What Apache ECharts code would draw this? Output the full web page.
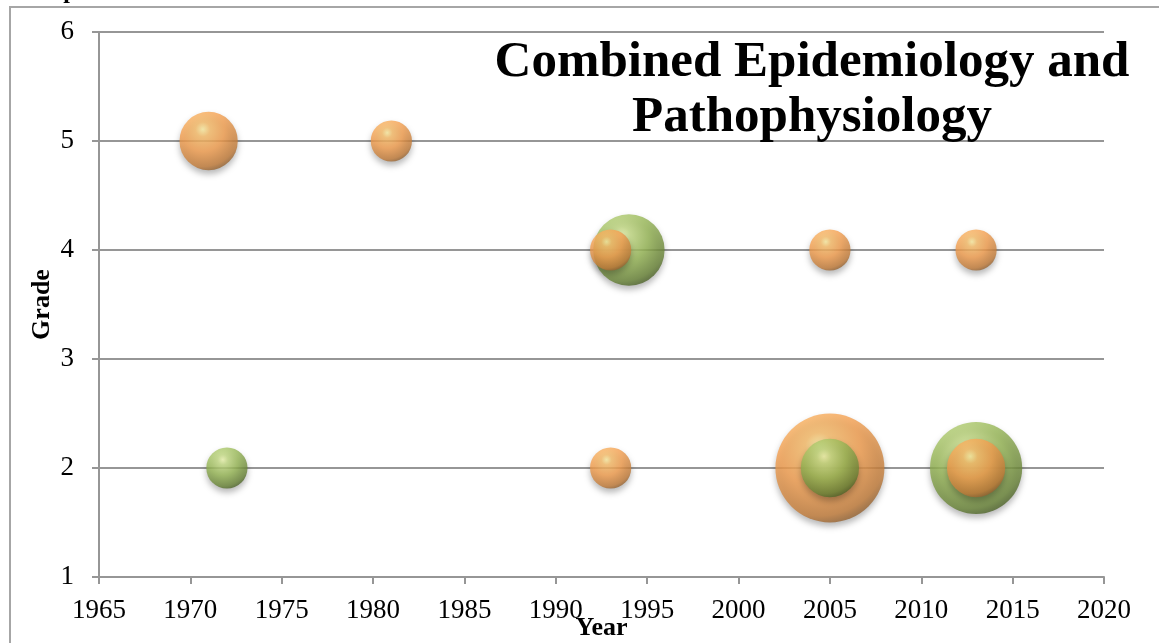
<!DOCTYPE html>
<html><head><meta charset="utf-8">
<script src="https://cdn.jsdelivr.net/npm/echarts@6/dist/echarts.min.js"></script>
<style>html,body{margin:0;padding:0;background:#fff}#c{width:1159px;height:643px}</style>
</head><body><div id="c"></div>
<script>
// [year, grade, bubble size]
const orangeData = [
  [1971, 5, 2], [1981, 5, 1], [1993, 4, 1], [2005, 4, 1], [2013, 4, 1],
  [1993, 2, 1], [2005, 2, 7], [2013, 2, 2]
];
const greenData = [
  [1994, 4, 3], [1972, 2, 1], [2005, 2, 2], [2013, 2, 5]
];
const titleLines = ['Combined Epidemiology and', 'Pathophysiology'];
const xName = 'Year';
const yName = 'Grade';

const FONT = '"Liberation Serif", "DejaVu Serif", serif';

function sphere(c) {
  return new echarts.graphic.RadialGradient(0.4, 0.3, 0.78, [
    {offset: 0, color: c[0]}, {offset: 0.16, color: c[1]},
    {offset: 0.48, color: c[2]}, {offset: 0.82, color: c[3]}, {offset: 1, color: c[4]}
  ]);
}
const orangeFill = sphere(['#fff0a4', '#fcc06c', '#f6a151', '#c47d3a', '#74502b']);
const greenFill = sphere(['#f0f9b2', '#c6de86', '#9aba58', '#6a8538', '#3a4c1e']);

// Larger bubbles drawn first (underneath), as in the source chart
const items = [];
orangeData.forEach(d => items.push({value: d, itemStyle: {color: orangeFill}}));
greenData.forEach(d => items.push({value: d, itemStyle: {color: greenFill}}));
items.sort((a, b) => b.value[2] - a.value[2]);

const chart = echarts.init(document.getElementById('c'), null, {renderer: 'canvas'});
chart.setOption({
  animation: false,
  backgroundColor: '#fff',
  graphic: [
    {type: 'rect', z: -10, shape: {x: 10, y: 7, width: 1200, height: 700},
     style: {fill: 'none', stroke: '#a6a6a6', lineWidth: 2}},
    {type: 'text', x: 22, y: 4, z: 10,
     style: {text: 'Graph', font: 'bold 24px ' + FONT, fill: '#000', verticalAlign: 'bottom'}},
    {type: 'text', x: 812, y: 35, z: 10,
     style: {text: titleLines.join('\n'), font: 'bold 51px ' + FONT, fill: '#000',
             align: 'center', lineHeight: 55}}
  ],
  grid: {left: 99, right: 55, top: 32, bottom: 66, containLabel: false, outerBoundsMode: 'none'},
  xAxis: {
    type: 'value', min: 1965, max: 2020, interval: 5,
    name: xName, nameLocation: 'middle', nameGap: 38, nameMoveOverlap: false,
    nameTextStyle: {fontFamily: FONT, fontWeight: 'bold', fontSize: 26, color: '#000'},
    axisLine: {show: true, onZero: false, lineStyle: {color: '#969696', width: 2}},
    axisTick: {show: true, length: 7, lineStyle: {color: '#969696', width: 2}},
    axisLabel: {fontFamily: FONT, fontSize: 27, color: '#000', margin: 20,
                formatter: v => String(v)},
    splitLine: {show: false}
  },
  yAxis: {
    type: 'value', min: 1, max: 6, interval: 1,
    name: yName, nameLocation: 'middle', nameGap: 44, nameMoveOverlap: false,
    nameTextStyle: {fontFamily: FONT, fontWeight: 'bold', fontSize: 26, color: '#000'},
    axisLine: {show: true, onZero: false, lineStyle: {color: '#969696', width: 2}},
    axisTick: {show: true, length: 7, lineStyle: {color: '#969696', width: 2}},
    axisLabel: {fontFamily: FONT, fontSize: 27, color: '#000', margin: 25},
    splitLine: {show: true, lineStyle: {color: '#969696', width: 2}}
  },
  series: [{
    type: 'scatter',
    data: items,
    symbolSize: v => 41.2 * Math.sqrt(v[2]),
    itemStyle: {shadowBlur: 6, shadowOffsetY: 4, shadowColor: 'rgba(0,0,0,0.35)'},
    z: 5
  }]
});
</script></body></html>
